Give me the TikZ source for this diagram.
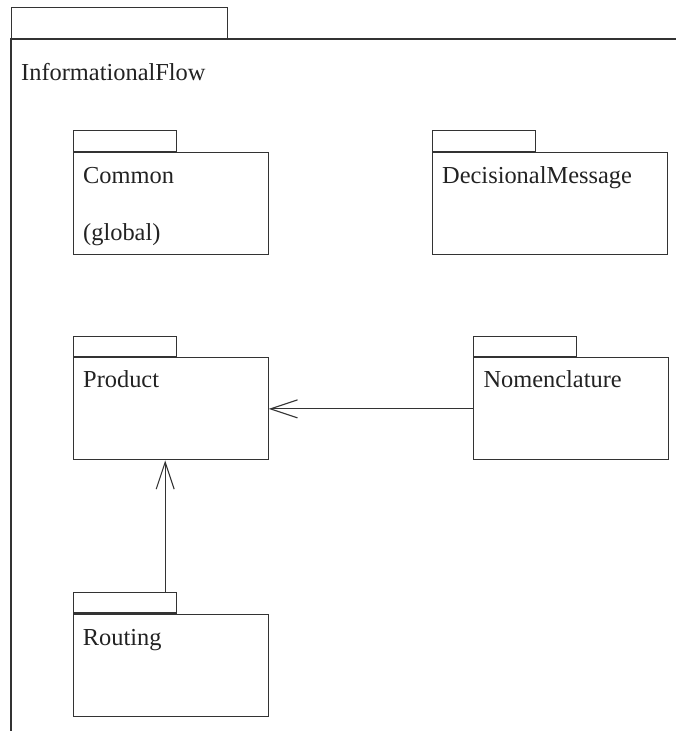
\documentclass[tikz,border=0pt]{standalone}
\usepackage{fontspec}
\setmainfont{Liberation Serif}
\usetikzlibrary{arrows.meta}
\definecolor{linec}{HTML}{333333}
\definecolor{textc}{HTML}{222222}
\begin{document}
\begin{tikzpicture}[x=1pt,y=-1pt,
  pkgbody/.style={draw=linec, line width=1.1pt, anchor=north west, inner sep=0pt, minimum height=102pt},
  pkgtab/.style={draw=linec, line width=1.1pt, anchor=south west, inner sep=0pt, minimum width=103pt, minimum height=20.7pt},
  lbl/.style={anchor=base west, inner sep=0pt, text=textc, font=\fontsize{24.4}{29}\selectfont},
  dep/.style={draw=linec, line width=1.1pt, -{Straight Barb[length=27pt,width=18pt,line width=1.1pt]}}
]
\useasboundingbox (0,0) rectangle (675,731);
% outer package
\node[pkgtab, minimum width=216pt, minimum height=31pt] (outtab) at (11,39) {};
\coordinate (outnw) at (11,39);
\coordinate (outne) at (680,39);
\coordinate (outsw) at (11,740);
\draw[linec, line width=1.1pt] (outne) -- (outnw) -- (outsw);
\node[lbl] (outlbl) at (21,80) {InformationalFlow};
% Common
\node[pkgbody, minimum width=195pt] (comb) at (72.7,152) {};
\node[pkgtab] (comt) at (comb.north west) {};
\node[lbl] (coml) at (83,183) {Common};
\node[lbl] (comg) at (83,240) {(global)};
% DecisionalMessage
\node[pkgbody, minimum width=235.5pt] (decb) at (431.7,152) {};
\node[pkgtab] (dect) at (decb.north west) {};
\node[lbl] (decl) at (442,183) {DecisionalMessage};
% Product
\node[pkgbody, minimum width=195pt] (prob) at (72.7,357.3) {};
\node[pkgtab] (prot) at (prob.north west) {};
\node[lbl] (prol) at (83,387.7) {Product};
% Nomenclature
\node[pkgbody, minimum width=195pt] (nomb) at (472.7,357.3) {};
\node[pkgtab] (nomt) at (nomb.north west) {};
\node[lbl] (noml) at (483.3,387.7) {Nomenclature};
% Routing
\node[pkgbody, minimum width=195pt] (roub) at (72.7,613.5) {};
\node[pkgtab] (rout) at (roub.north west) {};
\node[lbl] (roul) at (82.7,645) {Routing};
% dependencies
\draw[dep] (nomb.west) -- (prob.east);
\draw[dep] ([xshift=92.5pt]rout.north west) -- ([xshift=92.5pt]prob.south west);
\end{tikzpicture}
\end{document}
